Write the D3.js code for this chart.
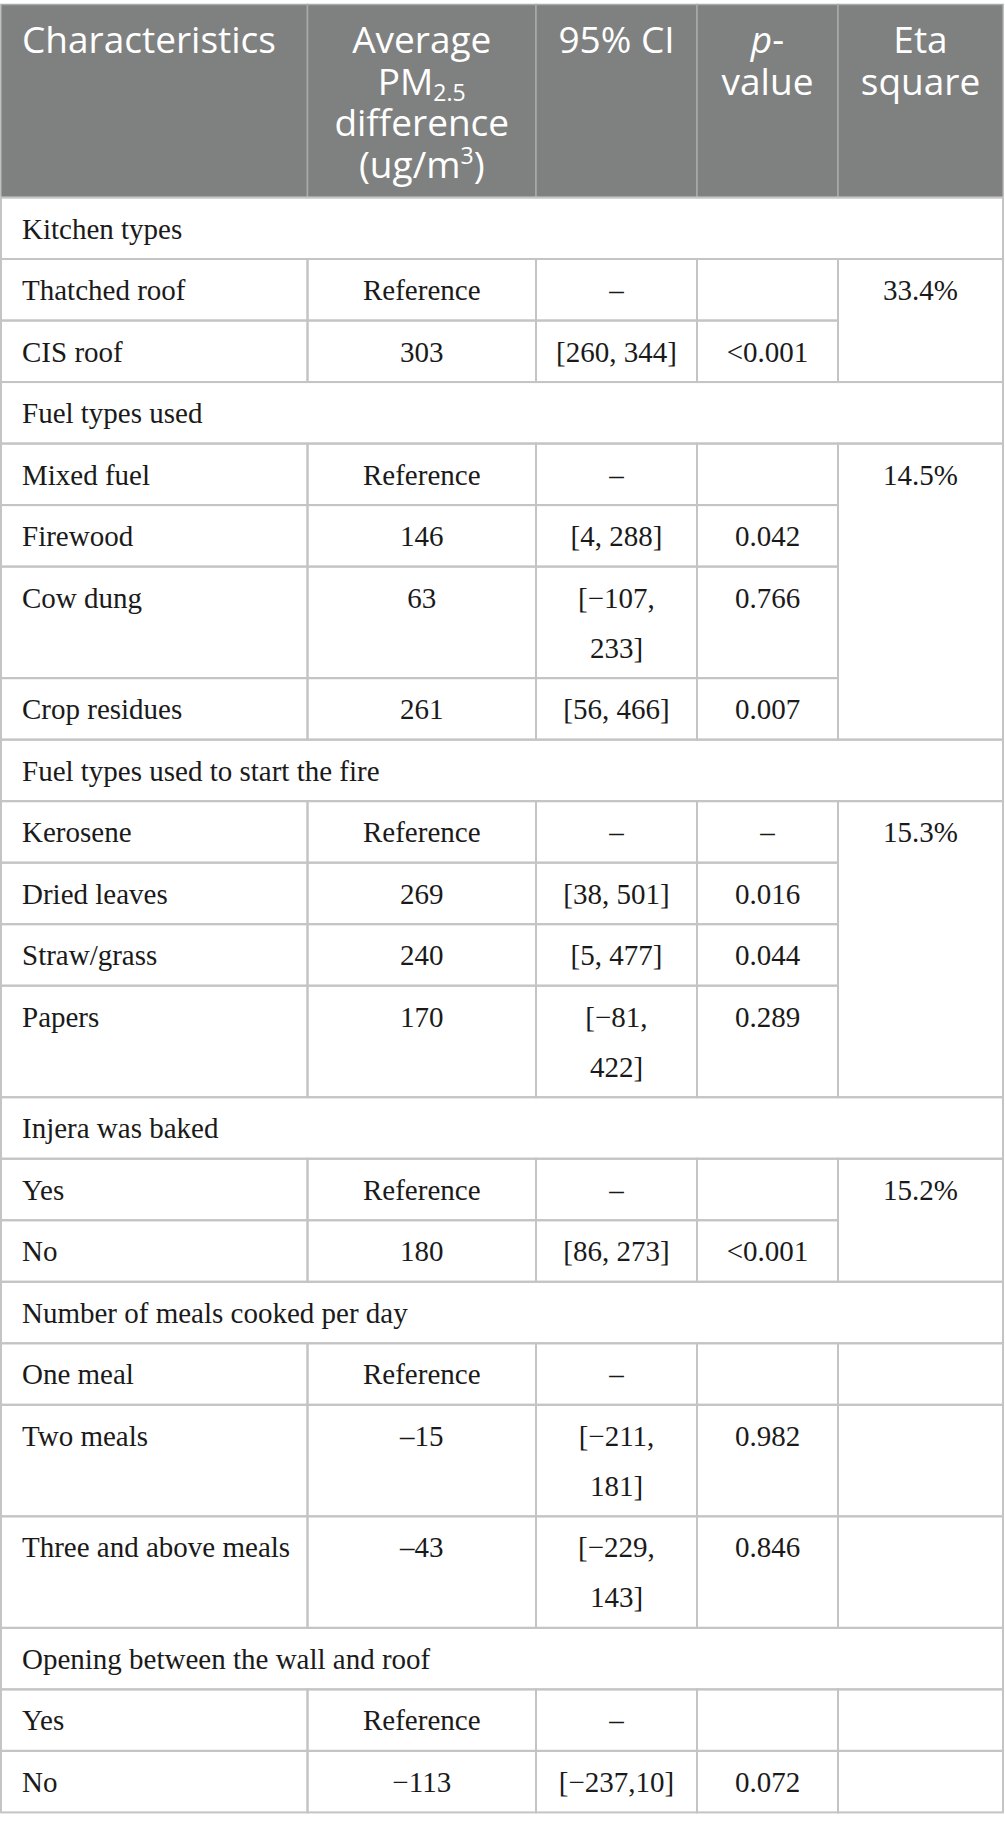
<!DOCTYPE html>
<html>
<head>
<meta charset="utf-8">
<script src="https://cdn.jsdelivr.net/npm/d3@7"></script>
<style>
  body { margin: 0; background: #fff; }
</style>
</head>
<body>
<div id="chart"></div>
<script>
// header labels: _{..} subscript, ^{..} superscript, *..* italic
var headerLines = [
  ["Characteristics"],
  ["Average", "PM_{2.5}", "difference", "(ug/m^{3})"],
  ["95% CI"],
  ["*p*-", "value"],
  ["Eta", "square"]
];

var groups = [
  "Kitchen types",
  "Fuel types used",
  "Fuel types used to start the fire",
  "Injera was baked",
  "Number of meals cooked per day",
  "Opening between the wall and roof"
];
// eta square per group (empty = no merged cell)
var groupEta = ["33.4%", "14.5%", "15.3%", "15.2%", "", ""];

var characteristics = ["Thatched roof", "CIS roof", "Mixed fuel", "Firewood", "Cow dung",
  "Crop residues", "Kerosene", "Dried leaves", "Straw/grass", "Papers", "Yes", "No",
  "One meal", "Two meals", "Three and above meals", "Yes", "No"];
var groupOf = [0, 0, 1, 1, 1, 1, 2, 2, 2, 2, 3, 3, 4, 4, 4, 5, 5];
var avgDiff = ["Reference", "303", "Reference", "146", "63", "261", "Reference", "269",
  "240", "170", "Reference", "180", "Reference", "\u201315", "\u201343", "Reference", "\u2212113"];
var ci = ["\u2013", "[260, 344]", "\u2013", "[4, 288]", "[\u2212107,\n233]", "[56, 466]",
  "\u2013", "[38, 501]", "[5, 477]", "[\u221281,\n422]", "\u2013", "[86, 273]", "\u2013",
  "[\u2212211,\n181]", "[\u2212229,\n143]", "\u2013", "[\u2212237,10]"];
var pValues = ["", "<0.001", "", "0.042", "0.766", "0.007", "\u2013", "0.016", "0.044",
  "0.289", "", "<0.001", "", "0.982", "0.846", "", "0.072"];

var width = 1005, height = 1829;
var colWidths = [306.5, 228.5, 161, 141, 165];
var tableLeft = 1, headTop = 4.5, headBottom = 197.5, tableBottom = 1812.4;
var lineStep = 50, rowPad = 11.5, headStep = 41.5;

var colEdges = [tableLeft].concat(Array.from(d3.cumsum(colWidths), d => d + tableLeft));
var xLeft = d3.scaleOrdinal().domain(d3.range(5)).range(colEdges.slice(0, 5));
var colW = d3.scaleOrdinal().domain(d3.range(5)).range(colWidths);
var tableRight = colEdges[5];

function textX(c) { return c === 0 ? xLeft(c) + 21 : xLeft(c) + colW(c) / 2; }

// build the row list
var rows = [];
groups.forEach(function(g, gi) {
  rows.push({type: "group", label: g, lines: 1, group: gi});
  characteristics.forEach(function(c, i) {
    if (groupOf[i] !== gi) return;
    var cells = [c, avgDiff[i], ci[i], pValues[i]];
    var lines = d3.max(cells, d => d.split("\n").length);
    rows.push({type: "level", cells: cells, lines: lines, group: gi, idx: i});
  });
});

// cumulative units -> pixels
var u = 0;
rows.forEach(function(r) {
  r.u0 = u;
  u += r.lines + rowPad / lineStep;
  r.u1 = u;
});
var y = d3.scaleLinear().domain([0, u]).range([headBottom, tableBottom]);

var svg = d3.select("#chart").append("svg")
  .attr("width", width)
  .attr("height", height);

function segs(s) {
  var out = [], re = /_\{([^}]*)\}|\^\{([^}]*)\}|\*([^*]*)\*/g, last = 0, m;
  while ((m = re.exec(s))) {
    if (m.index > last) out.push({t: s.slice(last, m.index)});
    if (m[1] != null) out.push({t: m[1], shift: 6});
    else if (m[2] != null) out.push({t: m[2], shift: -14});
    else out.push({t: m[3], it: true});
    last = re.lastIndex;
  }
  if (last < s.length) out.push({t: s.slice(last)});
  return out;
}

// header
var head = svg.append("g").attr("class", "header");
d3.range(5).forEach(function(c) {
  head.append("rect")
    .attr("x", xLeft(c)).attr("y", headTop)
    .attr("width", colW(c)).attr("height", headBottom - headTop)
    .attr("fill", "#7f8180")
    .attr("stroke", "#a9abaa")
    .attr("stroke-width", 1.5);
});
headerLines.forEach(function(lines, c) {
  var t = head.append("text")
    .attr("x", textX(c))
    .attr("y", headTop + 48.8)
    .attr("text-anchor", c === 0 ? "start" : "middle")
    .attr("fill", "#fff")
    .style("font-family", "'Open Sans', sans-serif")
    .style("font-size", "37px");
  var cur = 0;
  lines.forEach(function(line, li) {
    segs(line).forEach(function(s, si) {
      var sh = s.shift || 0;
      var ts = t.append("tspan");
      if (si === 0) ts.attr("x", textX(c)).attr("dy", (li ? headStep : 0) + sh - cur);
      else ts.attr("dy", sh - cur);
      ts.style("font-size", s.shift ? "23px" : null)
        .style("font-style", s.it ? "italic" : null)
        .text(s.t);
      cur = sh;
    });
  });
});

// body cells
var body = svg.append("g").attr("class", "body");
var cellStroke = "#c4c4c4";

function cellRect(x, y0, w, h) {
  body.append("rect")
    .attr("x", x).attr("y", y0)
    .attr("width", w).attr("height", h)
    .attr("fill", "none")
    .attr("stroke", cellStroke)
    .attr("stroke-width", 2);
}

function cellText(lines, c, top) {
  var t = body.append("text")
    .attr("x", textX(c))
    .attr("y", top + 41)
    .attr("text-anchor", c === 0 ? "start" : "middle")
    .attr("fill", "#1a1a1a")
    .style("font-family", "'Liberation Serif', 'Times New Roman', serif")
    .style("font-size", "29px");
  lines.split("\n").forEach(function(line, li) {
    t.append("tspan")
      .attr("x", textX(c))
      .attr("dy", li ? lineStep : 0)
      .text(line);
  });
}

rows.forEach(function(r) {
  var y0 = y(r.u0), y1 = y(r.u1);
  if (r.type === "group") {
    cellRect(tableLeft, y0, tableRight - tableLeft, y1 - y0);
    cellText(r.label, 0, y0);
    return;
  }
  r.cells.forEach(function(v, c) {
    cellRect(xLeft(c), y0, colW(c), y1 - y0);
    if (v) cellText(v, c, y0);
  });
  if (groupEta[r.group] === "") cellRect(xLeft(4), y0, colW(4), y1 - y0);
});

// merged eta-square cells
groups.forEach(function(g, gi) {
  if (groupEta[gi] === "") return;
  var gr = rows.filter(r => r.type === "level" && r.group === gi);
  var y0 = y(gr[0].u0), y1 = y(gr[gr.length - 1].u1);
  cellRect(xLeft(4), y0, colW(4), y1 - y0);
  cellText(groupEta[gi], 4, y0);
});
</script>
</body>
</html>
